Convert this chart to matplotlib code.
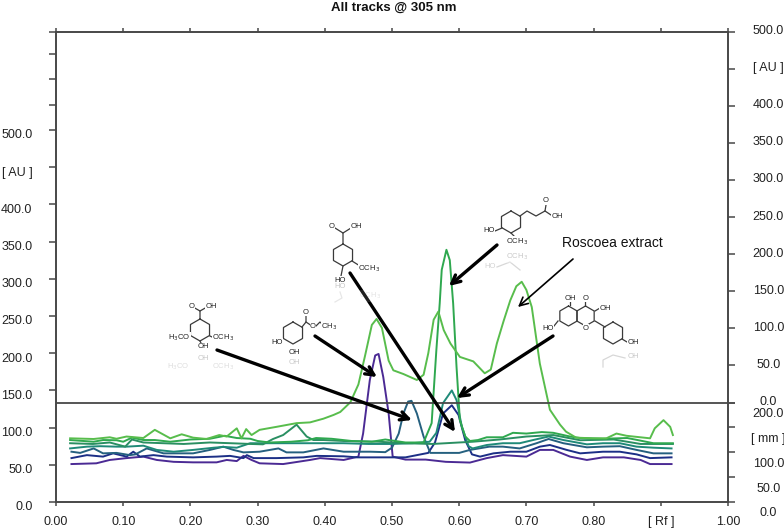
# -*- coding: utf-8 -*-
"""
TLC densitogram, all tracks at 305 nm, with the compounds drawn on top.
"""
import numpy as np
import matplotlib
matplotlib.use('Agg')
import matplotlib.pyplot as plt

plt.rcParams['font.family'] = ['Liberation Sans', 'DejaVu Sans']

# tracks, Rf against AU on the left scale
extract_rf = [0.021, 0.056, 0.08, 0.09, 0.105, 0.13, 0.147, 0.17, 0.187, 0.204, 0.224, 0.243, 0.254, 0.269, 0.276,
              0.283, 0.291, 0.303, 0.328, 0.358, 0.378, 0.398, 0.413, 0.423, 0.438, 0.45, 0.46, 0.47, 0.477, 0.485,
              0.495, 0.502, 0.517, 0.537, 0.547, 0.554, 0.562, 0.569, 0.577, 0.587, 0.601, 0.621, 0.638, 0.647, 0.656,
              0.666, 0.676, 0.685, 0.693, 0.70, 0.708, 0.72, 0.735, 0.75, 0.759, 0.774, 0.799, 0.819, 0.834, 0.849,
              0.884, 0.891, 0.904, 0.914, 0.918]
extract_au = [85.6, 84.7, 87, 85, 88, 86, 97, 85.6, 91, 86.5, 84.7, 90, 88, 99, 85.6,
              98, 90, 97, 101, 106, 107, 112, 117, 121, 134, 158, 197, 238, 246, 234,
              190, 177, 172, 164, 171, 200, 245, 256, 231, 213, 195, 189, 173, 178, 213,
              243, 271, 290, 296, 285, 262, 186, 124, 104, 94.5, 86.5, 85.6, 85.6, 92, 89,
              85.6, 99, 110, 101, 90]

ferulic_rf = [0.021, 0.056, 0.07, 0.09, 0.10, 0.113, 0.13, 0.147, 0.17, 0.20, 0.229, 0.251, 0.269, 0.289, 0.30,
              0.318, 0.35, 0.375, 0.387, 0.41, 0.44, 0.47, 0.49, 0.52, 0.547, 0.559, 0.566, 0.571, 0.574, 0.581,
              0.586, 0.591, 0.596, 0.601, 0.609, 0.616, 0.628, 0.641, 0.665, 0.68, 0.70, 0.723, 0.74, 0.765, 0.78,
              0.814, 0.85, 0.867, 0.889, 0.918]
ferulic_au = [83.3, 81, 83.3, 83, 81, 86.5, 83.3, 83.3, 81, 84, 85, 89, 86, 85, 82,
              80, 81, 83, 86, 85, 82, 81, 84, 80, 80, 106, 204, 267, 312, 339,
              325, 267, 182, 110, 88, 82, 83.3, 87, 87, 93, 92, 94, 93, 88, 86,
              85, 86, 83, 79, 79]

hump_rf = [0.021, 0.055, 0.08, 0.103, 0.113, 0.13, 0.16, 0.19, 0.229, 0.26, 0.29, 0.308, 0.323, 0.338, 0.358, 0.373,
           0.383, 0.398, 0.428, 0.48, 0.52, 0.56, 0.60, 0.62, 0.66, 0.70, 0.74, 0.78, 0.83, 0.87, 0.918]
hump_au = [79, 78, 80, 74.4, 84, 80, 79, 78, 80, 79, 78, 77.5, 84.7, 90, 104, 88,
           83.3, 83.3, 82, 81, 79, 78, 80, 81, 84, 88, 90, 83, 84, 78, 78]

kaemp_rf = [0.021, 0.046, 0.066, 0.09, 0.105, 0.13, 0.15, 0.175, 0.204, 0.235, 0.249, 0.269, 0.289, 0.328, 0.368,
            0.398, 0.428, 0.465, 0.50, 0.53, 0.556, 0.566, 0.576, 0.589, 0.596, 0.604, 0.614, 0.62, 0.641, 0.665,
            0.69, 0.71, 0.733, 0.755, 0.79, 0.814, 0.839, 0.864, 0.889, 0.916]
kaemp_au = [72, 74.4, 75, 74.4, 74.4, 75.7, 70, 67.6, 70, 73, 74, 73, 79, 79, 79,
            79, 79, 78, 78, 79, 81, 93, 133, 150, 137, 101, 75, 72, 76.6, 79,
            79, 83.3, 88, 83.3, 77.5, 79, 79, 74.4, 73, 72]

ethyl_rf = [0.023, 0.036, 0.056, 0.07, 0.09, 0.11, 0.118, 0.135, 0.16, 0.204, 0.229, 0.249, 0.264, 0.279, 0.303, 0.331,
            0.343, 0.368, 0.398, 0.428, 0.468, 0.49, 0.50, 0.51, 0.517, 0.524, 0.529, 0.537, 0.547, 0.557, 0.58,
            0.60, 0.616, 0.645, 0.665, 0.69, 0.715, 0.733, 0.755, 0.79, 0.814, 0.839, 0.864, 0.889, 0.916]
ethyl_au = [67.6, 66, 72, 65.4, 66, 63, 64, 72, 65.4, 65.4, 70, 74.4, 70, 66.7, 67.6, 72,
            66.7, 66.7, 72, 67.6, 67.6, 67, 73, 92, 119, 135, 136, 119, 88, 66, 66,
            66, 70, 74.4, 74.4, 72, 79, 84.7, 79, 73.5, 74.4, 75, 70, 65.4, 65.4]

vanillic_rf = [0.023, 0.046, 0.07, 0.085, 0.105, 0.115, 0.125, 0.145, 0.165, 0.204, 0.239, 0.259, 0.279, 0.284, 0.294,
               0.328, 0.368, 0.388, 0.428, 0.448, 0.48, 0.52, 0.554, 0.564, 0.576, 0.589, 0.599, 0.609, 0.619, 0.631,
               0.651, 0.676, 0.70, 0.72, 0.735, 0.76, 0.78, 0.814, 0.839, 0.864, 0.884, 0.916]
vanillic_au = [59, 63, 61, 65.4, 61, 67.6, 61, 63, 61, 60, 61, 62, 59, 63, 59,
               59, 60, 62, 61.4, 60, 60, 60, 66, 80, 119, 130, 117, 83, 64, 61,
               65.4, 67.6, 67.6, 74.4, 76.6, 70, 65.4, 67.6, 67.6, 64, 59, 60]

purple_rf = [0.023, 0.06, 0.08, 0.105, 0.13, 0.15, 0.175, 0.204, 0.239, 0.254, 0.269, 0.279, 0.291, 0.303, 0.338, 0.378,
             0.393, 0.428, 0.45, 0.457, 0.467, 0.475, 0.48, 0.487, 0.495, 0.501, 0.52, 0.55, 0.58, 0.616, 0.641,
             0.665, 0.70, 0.72, 0.74, 0.765, 0.79, 0.814, 0.845, 0.87, 0.884, 0.916]
purple_au = [51, 52, 56.5, 59, 61, 56.5, 54, 53.3, 53.3, 56.5, 55, 62, 56.5, 52, 51, 56.5,
             59, 56.5, 61, 92, 164, 197, 199, 168, 119, 61, 57, 57, 54, 53, 59,
             63, 61, 70, 70, 61, 56.5, 60, 60, 56.5, 51, 51]

tracks = [(purple_rf, purple_au, '#4b2a94'), (vanillic_rf, vanillic_au, '#1c2f86'),
          (ethyl_rf, ethyl_au, '#25607f'), (kaemp_rf, kaemp_au, '#1f8a78'),
          (hump_rf, hump_au, '#2a8f62'), (ferulic_rf, ferulic_au, '#2fa84f'),
          (extract_rf, extract_au, '#58bd4c')]

rf_ticks = [0.0, 0.1, 0.2, 0.3, 0.4, 0.5, 0.6, 0.7, 0.8, 0.9, 1.0]
rf_labels = ['0.00', '0.10', '0.20', '0.30', '0.40', '0.50', '0.60', '0.70', '0.80', '[ Rf ]', '1.00']
left_ticks = [0, 50, 100, 150, 200, 250, 300, 350, 400, 450, 500, 534, 568, 602, 632]
left_labels = ['0.0', '50.0', '100.0', '150.0', '200.0', '250.0', '300.0', '350.0', '400.0', '[ AU ]', '500.0',
               '', '', '', '']
upper_ticks = [0, 50, 100, 150, 200, 250, 300, 350, 400, 450, 500]
upper_labels = ['0.0', '50.0', '100.0', '150.0', '200.0', '250.0', '300.0', '350.0', '400.0', '[ AU ]', '500.0']
lower_ticks = [0, 50, 100, 150, 200]
lower_labels = ['0.0', '50.0', '100.0', '[ mm ]', '200.0']

W, H = 784, 528
L, R, T, B = 56, 728, 31.5, 502
DIVIDE = 402.5
FRAME = '#484848'
INK = '#3a3a3a'

fig = plt.figure(figsize=(W / 100, H / 100), dpi=100)
ax = fig.add_axes([L / W, 1 - B / H, (R - L) / W, (B - T) / H])
left_top = (B - T) / 37.2 * 50
ax.set_xlim(0, 1)
ax.set_ylim(0, left_top)

for rf, au, colour in tracks:
    ax.plot(rf, au, color=colour, lw=1.4, solid_joinstyle='round')
ax.axhline((B - DIVIDE) / 37.2 * 50, color=FRAME, lw=1.3)

ax.set_xticks(rf_ticks)
ax.set_xticklabels(rf_labels, fontsize=9, color='#222222')
ax.tick_params(axis='x', top=True, length=3, width=1.1, color=FRAME, pad=7)
ax.set_yticks(left_ticks)
ax.set_yticklabels(left_labels, fontsize=9, color='#222222')
ax.tick_params(axis='y', length=5, width=1.1, color=FRAME, pad=12)
for spine in ax.spines.values():
    spine.set_color(FRAME)
    spine.set_linewidth(1.4)


def shift_labels(axis, px):
    for lab in axis.get_yticklabels():
        lab.set_transform(lab.get_transform() + matplotlib.transforms.Affine2D().translate(0, px))


shift_labels(ax, -4)

# right side has two scales, the divider is 0 of the upper one
upper = ax.twinx()
upper.set_ylim(-(B - DIVIDE) / (DIVIDE - T) * 500, 500)
upper.set_yticks(upper_ticks)
upper.set_yticklabels(upper_labels, fontsize=9, color='#222222', ha='center')
upper.tick_params(axis='y', length=5, width=1.1, color=FRAME, pad=24)
shift_labels(upper, 2)

lower = ax.twinx()
lower.set_ylim(0, (B - T) / (B - DIVIDE) * 200)
lower.set_yticks(lower_ticks)
lower.set_yticklabels(lower_labels, fontsize=9, color='#222222', ha='center')
lower.tick_params(axis='y', length=5, width=1.1, color=FRAME, pad=24)
shift_labels(lower, -10)
for extra in (upper, lower):
    extra.patch.set_visible(False)
    for spine in extra.spines.values():
        spine.set_visible(False)

# overlay in image pixels for the arrows and structures
over = fig.add_axes([0, 0, 1, 1])
over.set_xlim(0, W)
over.set_ylim(H, 0)
over.axis('off')
over.patch.set_visible(False)

over.text(393.5, 8, 'All tracks @ 305 nm', ha='center', va='center', fontsize=9.5, fontweight='bold', color='#111111')
over.text(612, 243, 'Roscoea extract', ha='center', va='center', fontsize=10, color='#111111')

arrows = [((217, 350), (412, 420), 2.4), ((315, 336), (377, 377), 2.4), ((350, 273), (455, 432), 2.4),
          ((497, 245), (449, 286), 2.4), ((553, 336), (457, 398), 2.4), ((573, 259), (518, 307), 1.2)]
for start, tip, lw in arrows:
    over.annotate('', xy=tip, xytext=start,
                  arrowprops=dict(arrowstyle='->', color='black', lw=lw, shrinkA=0, shrinkB=0,
                                  mutation_scale=15))


def ring(cx, cy, r=11, alpha=1.0, start=90):
    a = np.radians(start + np.arange(7) * 60)
    over.plot(cx + r * np.cos(a), cy - r * np.sin(a), color=INK, lw=0.9, alpha=alpha)


def bonds(points, alpha=1.0):
    xs, ys = zip(*points)
    over.plot(xs, ys, color=INK, lw=0.9, alpha=alpha)


def atom(x, y, s, alpha=1.0):
    over.text(x, y, s, ha='center', va='center', fontsize=5.5, color='#222222', alpha=alpha,
              bbox=dict(fc='white', ec='none', pad=0.3, alpha=alpha))


# syringic acid
ring(200, 330)
bonds([(200, 319), (200, 311), (193, 307)])
bonds([(200, 311), (207, 307)])
bonds([(190, 336), (186, 338)])
bonds([(210, 336), (214, 338)])
bonds([(200, 341), (202, 345)])
atom(192, 306, 'O')
atom(211, 306, 'OH')
atom(179, 338, 'H$_3$CO')
atom(223, 338, 'OCH$_3$')
atom(203, 347, 'OH')
atom(203, 358, 'OH', 0.25)
atom(178, 367, 'H$_3$CO', 0.15)
atom(223, 367, 'OCH$_3$', 0.15)

# ethyl caffeate
ring(293, 333)
bonds([(302, 327), (306, 322), (306, 315)])
bonds([(306, 322), (312, 326)])
bonds([(316, 326), (320, 322), (324, 326)])
atom(306, 312, 'O')
atom(313, 327, 'O')
atom(329, 327, 'CH$_3$')
atom(277, 342, 'HO')
atom(294, 352, 'OH')
atom(294, 362, 'OH', 0.25)

# vanillic acid
ring(343, 255)
bonds([(343, 244), (343, 233), (335, 228)])
bonds([(343, 233), (351, 228)])
bonds([(352, 261), (360, 266)])
bonds([(343, 266), (341, 276)])
atom(332, 227, 'O')
atom(356, 227, 'OH')
atom(369, 269, 'OCH$_3$')
atom(340, 280, 'HO')
atom(340, 287, 'HO', 0.25)
atom(370, 296, 'OCH$_3$', 0.12)
bonds([(340, 292), (342, 298), (335, 302)], 0.12)

# ferulic acid
ring(511, 222)
bonds([(520, 216), (527, 211), (536, 216), (545, 211), (546, 205)])
bonds([(545, 211), (551, 215)])
bonds([(502, 228), (495, 231)])
bonds([(511, 233), (516, 238)])
atom(546, 201, 'O')
atom(557, 216, 'OH')
atom(489, 231, 'HO')
atom(517, 242, 'OCH$_3$')
atom(517, 257, 'OCH$_3$', 0.25)
atom(490, 267, 'HO', 0.2)
bonds([(497, 267), (510, 262), (520, 270)], 0.2)

# kaempferol
ring(568.5, 316, 10)
ring(585.5, 316, 10)
ring(613, 333, 11)
bonds([(570, 305), (570, 301)])
bonds([(585.5, 305), (585.5, 301)])
bonds([(595, 311), (600, 308)])
bonds([(595, 321), (605, 327)])
bonds([(558, 321), (554, 326)])
bonds([(622, 339), (627, 342)])
atom(570, 298, 'OH')
atom(586, 298, 'O')
atom(605, 308, 'OH')
atom(586, 328, 'O')
atom(548, 328, 'HO')
atom(633, 343, 'OH')
atom(633, 356, 'OH', 0.25)
bonds([(603, 367), (603, 360), (613, 355), (625, 358)], 0.2)

fig.savefig('out.png', dpi=100)
